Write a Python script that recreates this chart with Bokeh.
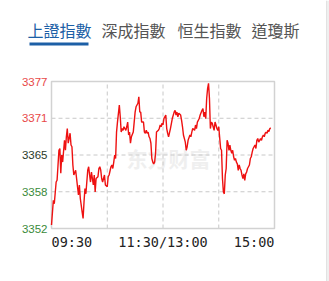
from bokeh.plotting import figure
from bokeh.models import Range1d
from bokeh.core.properties import value
from bokeh.embed import file_html
from bokeh.resources import INLINE

# minutes since 09:30 (trading minutes; 120 = 11:30/13:00, 240 = 15:00)
minutes = [0, 2, 3, 5, 6, 8, 9, 10, 11, 12, 14, 15, 16, 17, 18, 20, 21, 22, 23, 24,
           26, 27, 28, 29, 30, 31, 33, 34, 35, 36, 37, 39, 40, 41, 42, 43, 45, 46, 47, 48,
           50, 51, 52, 53, 54, 55, 57, 58, 60, 61, 62, 64, 65, 66, 67, 68, 69, 70, 71, 73,
           74, 75, 76, 77, 78, 80, 81, 82, 83, 84, 85, 86, 88, 89, 90, 91, 93, 94, 95, 96,
           97, 99, 100, 101, 102, 103, 104, 105, 106, 107, 108, 109, 110, 111, 112, 113, 115, 116, 117, 118,
           119, 120, 121, 123, 124, 125, 126, 128, 130, 132, 133, 134, 135, 136, 137, 139, 140, 141, 142, 144,
           145, 146, 147, 149, 150, 151, 152, 154, 155, 156, 157, 159, 160, 162, 163, 164, 165, 166, 167, 168,
           169, 170, 171, 172, 173, 175, 176, 177, 178, 179, 180, 182, 183, 184, 185, 186, 187, 188, 189, 190,
           191, 192, 193, 194, 195, 196, 197, 198, 199, 200, 201, 202, 203, 204, 205, 206, 207, 208, 209, 210,
           211, 212, 213, 214, 215, 216, 217, 218, 219, 220, 221, 222, 223, 224, 225, 226, 227, 228, 229, 230,
           231, 232, 233, 234, 235, 236, 237, 238, 239, 240]
prices = [3352.6, 3356.8, 3356.2, 3359.9, 3360.2, 3365.3, 3365.6, 3361.4, 3364.5, 3363.3,
          3367.0, 3365.3, 3367.6, 3369.0, 3366.5, 3368.2, 3366.2, 3365.9, 3362.8, 3361.1,
          3361.9, 3360.5, 3359.1, 3357.7, 3359.4, 3357.1, 3354.8, 3353.7, 3356.5, 3358.8,
          3357.9, 3361.9, 3362.5, 3361.1, 3359.9, 3361.6, 3359.4, 3361.1, 3358.2, 3360.5,
          3360.8, 3362.2, 3362.5, 3361.9, 3360.5, 3359.9, 3361.1, 3359.4, 3359.1, 3360.8,
          3361.1, 3362.5, 3362.8, 3362.2, 3363.3, 3364.5, 3363.9, 3368.4, 3370.1, 3373.0,
          3371.0, 3368.4, 3369.0, 3368.7, 3369.3, 3368.7, 3369.3, 3370.1, 3367.9, 3368.4,
          3366.5, 3367.6, 3368.4, 3370.1, 3371.8, 3372.7, 3373.3, 3374.4, 3371.8, 3371.8,
          3370.1, 3370.1, 3368.4, 3368.2, 3368.7, 3368.2, 3368.4, 3367.6, 3367.3, 3366.5,
          3363.9, 3363.3, 3363.0, 3363.3, 3364.8, 3368.4, 3368.7, 3369.0, 3369.6, 3369.3,
          3369.9, 3369.6, 3370.7, 3371.3, 3369.0, 3368.2, 3367.6, 3369.0, 3370.7, 3371.8,
          3372.1, 3371.3, 3371.8, 3371.0, 3371.6, 3371.3, 3370.4, 3369.3, 3367.9, 3366.7,
          3365.3, 3365.9, 3367.0, 3367.9, 3367.6, 3368.4, 3369.0, 3368.7, 3369.6, 3369.0,
          3370.1, 3370.7, 3371.3, 3372.1, 3372.4, 3371.0, 3371.8, 3370.7, 3374.1, 3375.8,
          3376.7, 3374.1, 3369.0, 3370.1, 3369.9, 3368.7, 3370.1, 3369.6, 3369.0, 3368.7,
          3369.3, 3365.6, 3365.3, 3360.5, 3358.2, 3357.9, 3361.1, 3362.2, 3367.0, 3366.5,
          3365.3, 3366.2, 3365.3, 3364.8, 3365.3, 3364.2, 3363.6, 3363.9, 3363.3, 3363.0,
          3361.9, 3362.8, 3362.2, 3361.9, 3361.1, 3360.5, 3361.3, 3360.2, 3361.3, 3361.6,
          3362.2, 3362.5, 3362.8, 3363.9, 3364.2, 3365.0, 3365.6, 3365.9, 3366.2, 3365.6,
          3367.0, 3367.3, 3366.7, 3367.0, 3367.3, 3367.0, 3367.6, 3367.9, 3367.6, 3368.2,
          3368.4, 3368.2, 3368.7, 3368.5, 3369.0, 3369.1]

y_ticks = [3377, 3370.75, 3364.5, 3358.25, 3352]
y_labels = ["3377", "3371", "3365", "3358", "3352"]
x_ticks = [0, 120, 240]
x_labels = ["09:30", "11:30/13:00", "15:00"]
x_grid = [60, 120, 180]
tabs = ["上證指數", "深成指數", "恒生指數", "道瓊斯"]
watermark = "东方财富"

n = min(len(minutes), len(prices))
minutes = minutes[:n]
prices = prices[:n]

# page / plot-frame geometry in pixels
W, H = 329, 281
FL, FR, FT, FB = 51, 274, 81, 228
x0, x1 = min(x_ticks), max(x_ticks)
y0, y1 = min(y_ticks), max(y_ticks)
sx = (x1 - x0) / (FR - FL)
sy = (y1 - y0) / (FB - FT)


def px(x):
    return x0 + (x - FL) * sx


def py(y):
    return y1 - (y - FT) * sy


p = figure(width=W, height=H, output_backend="svg", toolbar_location=None,
           x_range=Range1d(px(0), px(W)), y_range=Range1d(py(H), py(0)),
           x_axis_location=None, y_axis_location=None, min_border=0)
p.grid.visible = False
p.outline_line_color = None
p.background_fill_color = "white"
p.border_fill_color = "white"

# right page edge strip
p.quad(left=[px(326)], right=[px(W)], bottom=[py(H)], top=[py(0)],
       fill_color="#efefef", line_color=None)
p.segment(x0=[px(326)], y0=[py(H)], x1=[px(326)], y1=[py(0)],
          line_color="#e2e2e2", line_width=1)

# watermark
p.text(x=[px(168)], y=[py(157)], text=[watermark],
       text_font=value("Noto Sans CJK SC"), text_font_size=value("21px"),
       text_font_style=value("bold"), text_color="#efefef",
       text_align=value("center"), text_baseline=value("middle"))

# grid lines
inner_y = y_ticks[1:-1]
p.segment(x0=x_grid, y0=[y0] * len(x_grid), x1=x_grid, y1=[y1] * len(x_grid),
          line_color="#c8c8c8", line_dash="4 3", line_width=1)
p.segment(x0=[x0] * len(inner_y), y0=inner_y, x1=[x1] * len(inner_y), y1=inner_y,
          line_color="#c8c8c8", line_dash="4 3", line_width=1)

# frame
p.quad(left=[x0], right=[x1], bottom=[y0], top=[y1], fill_color=None,
       line_color="#d2d2d2", line_width=1.5)

# price line
p.line(minutes, prices, line_color="#ee1111", line_width=1.4)

# y labels
label_colors = ["#e84848", "#e84848", "#2a3a2a", "#3a8a3a", "#3a8a3a"]
p.text(x=[px(47)] * len(y_ticks), y=y_ticks, text=y_labels, text_color=label_colors,
       text_font=value("Liberation Sans"), text_font_size=value("11.5px"),
       text_align=value("right"), text_baseline=value("middle"))

# x labels
xl_y = py(241)
for xv, lab, a in zip(x_ticks, x_labels, ["left", "center", "right"]):
    p.text(x=[xv], y=[xl_y], text=[lab], text_color="#222222",
           text_font=value("DejaVu Sans Mono"), text_font_size=value("13.5px"),
           text_align=value(a), text_baseline=value("middle"))

# tabs
tab_x = [27, 101, 177, 251]
tab_colors = ["#1c5fa6", "#555555", "#555555", "#555555"]
p.text(x=[px(t) for t in tab_x], y=[py(29.5)] * len(tabs), text=tabs, text_color=tab_colors,
       text_font=value("Noto Sans CJK TC"), text_font_size=value("16px"),
       text_align=value("left"), text_baseline=value("middle"))
p.quad(left=[px(29)], right=[px(88)], bottom=[py(45)], top=[py(42)],
       fill_color="#1c5fa6", line_color=None)

open("out.html", "w").write(file_html(p, INLINE))
